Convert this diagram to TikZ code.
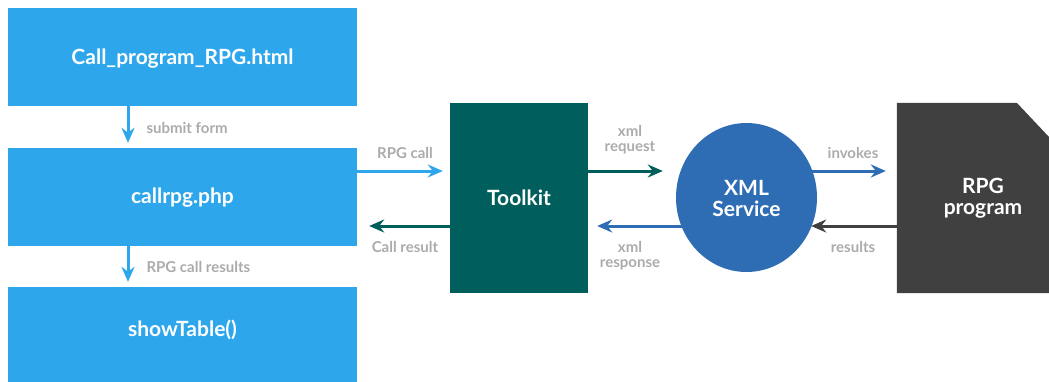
\documentclass[tikz,border=0pt]{standalone}
\usepackage{fontspec}
\setmainfont{Lato}
\usetikzlibrary{arrows.meta,shapes.geometric,backgrounds}
\definecolor{bluebox}{HTML}{2DA6EC}
\definecolor{teal}{HTML}{005F5C}
\definecolor{xmlblue}{HTML}{2E6DB4}
\definecolor{darkgray}{HTML}{404040}
\definecolor{labgray}{HTML}{ABABAB}
\tikzset{
  box/.style={fill=bluebox, draw=none, minimum width=349pt, minimum height=98pt, inner sep=0pt},
  maintext/.style={text=white, font=\bfseries\fontsize{21}{23}\selectfont, align=center},
  lab/.style={text=labgray, font=\bfseries\fontsize{15}{16}\selectfont, align=center},
  arr/.style={line width=3pt, -{Stealth[length=15pt,width=13pt,inset=5pt]}},
}
\begin{document}
\begin{tikzpicture}[x=1pt,y=-1pt]
\useasboundingbox (0,0) rectangle (1049,381);
% left boxes
\node[box] (b1) at (182.5,57) {};
\node[maintext] (t1) at (182.5,59) {Call\_program\_RPG.html};
\node[box] (b2) at (182.5,197) {};
\node[maintext] (t2) at (182.5,198) {callrpg.php};
\node[box, minimum height=100pt] (b3) at (182.5,337) {};
\node[maintext] (t3) at (182.5,330) {showTable()};
% toolkit
\node[fill=teal, minimum width=138pt, minimum height=190pt, inner sep=0pt] (tk) at (519,198) {};
\node[maintext] (tkt) at (519,198) {Toolkit};
% xml service
\node[ellipse, fill=xmlblue, minimum width=141pt, minimum height=149pt, inner sep=0pt] (xml) at (746.5,197.5) {};
\node[maintext] (xmlt) at (746.5,198) {XML\\[-2pt]Service};
% rpg program
\node[minimum width=152pt, minimum height=190pt, inner sep=0pt] (rpg) at (973,198) {};
\fill[darkgray] (rpg.south west) -- (rpg.north west) -- ++(120,0) -- (1049,137) -- (rpg.south east) -- cycle;
\node[maintext] (rpgt) at (983,198) {RPG\\[-2pt]program};
% vertical arrows
\draw[arr, bluebox, shorten >=5pt] (b1.south -| 128,0) -- (b2.north -| 128,0);
\node[lab, anchor=west] (l1) at (143,128) {submit form};
\draw[arr, bluebox, shorten >=5pt] (b2.south -| 128,0) -- (b3.north -| 128,0);
\node[lab, anchor=west] (l2) at (143,267) {RPG call results};
% horizontal arrows
\draw[arr, bluebox, shorten >=7pt] (b2.east |- 0,171) -- (tk.west |- 0,171);
\node[lab] (l3) at (405,153) {RPG call};
\draw[arr, teal, shorten >=12pt] (tk.west |- 0,226) -- (b2.east |- 0,226);
\node[lab] (l4) at (405,247) {Call result};
\draw[arr, teal, shorten >=13pt] (tk.east |- 0,171) -- (xml.west |- 0,171);
\node[lab] (l5) at (630,140) {xml\\[-1pt]request};
\begin{scope}[on background layer]
\draw[arr, xmlblue, shorten >=9pt] (xml.center |- 0,226) -- (tk.east |- 0,226);
\draw[arr, xmlblue, shorten >=11pt] (xml.center |- 0,171) -- (rpg.west |- 0,171);
\end{scope}
\node[lab] (l6) at (630,256) {xml\\[-1pt]response};
\node[lab] (l7) at (853,153) {invokes};
\draw[arr, darkgray, shorten >=-6pt] (rpg.west |- 0,226) -- (xml.east |- 0,226);
\node[lab] (l8) at (853,247) {results};
\end{tikzpicture}
\end{document}
